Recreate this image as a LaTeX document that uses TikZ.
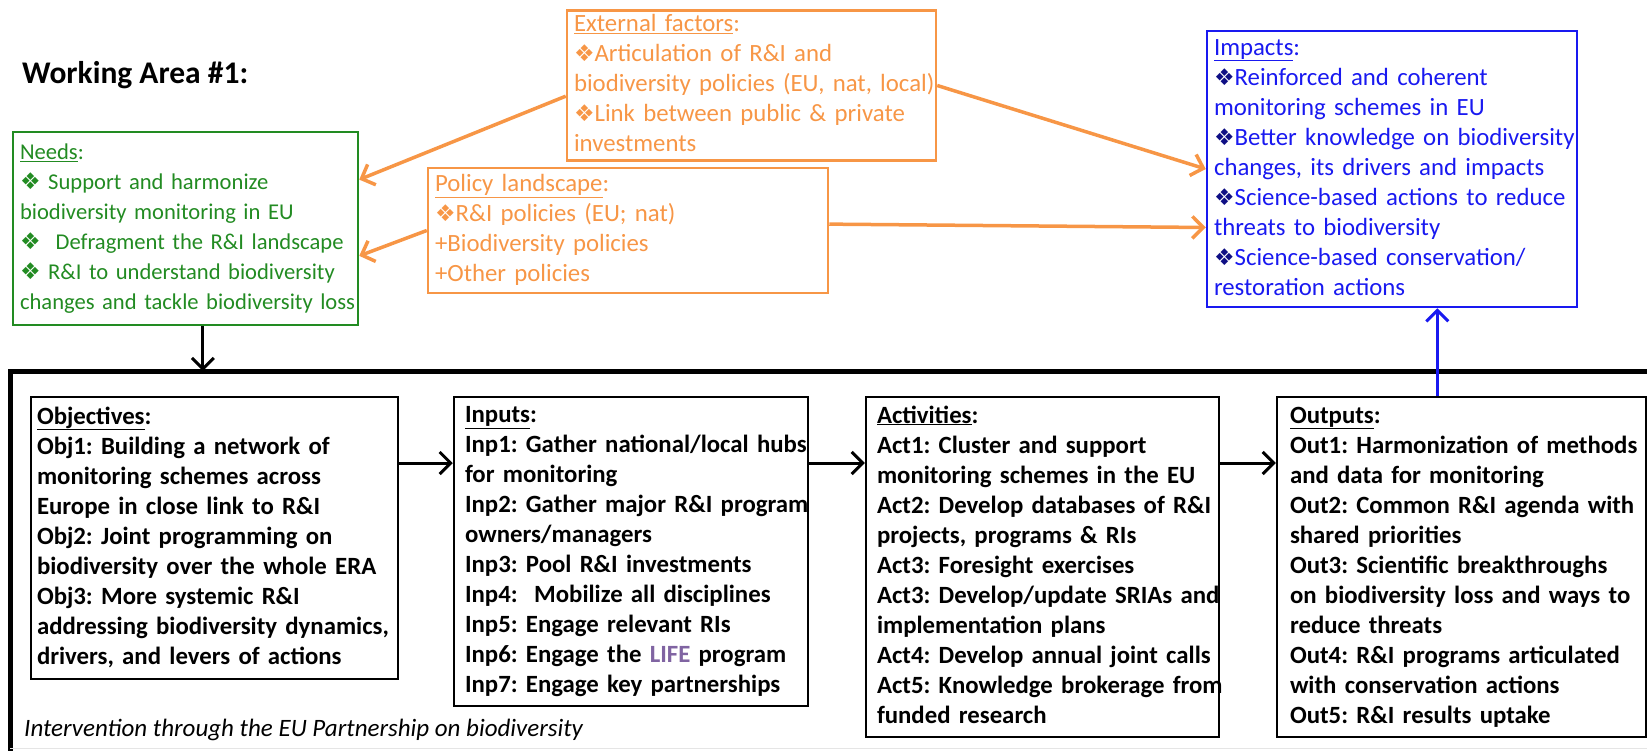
\documentclass[tikz,border=0pt]{standalone}
\usepackage{fontspec}
\setmainfont{Carlito}
\newfontfamily\symfont{DejaVu Sans}
\usetikzlibrary{arrows.meta,calc}

\definecolor{needgreen}{RGB}{34,139,34}
\definecolor{factorange}{RGB}{247,150,70}
\definecolor{impblue}{RGB}{25,25,240}
\definecolor{lifepurple}{RGB}{128,100,162}

\frenchspacing
\newcommand{\bul}{{\symfont\fontsize{23}{30}\selectfont ❖}}
\newcommand{\rows}[1]{\begin{tabular}{@{}l@{}}#1\end{tabular}}

\tikzset{
	panel/.style={draw, line width=2.5pt, inner ysep=0pt, align=left, font=\fontsize{24.8}{30}\selectfont},
	plan/.style={panel, font=\bfseries\fontsize{24.8}{30}\selectfont},
	flow/.style={line width=3pt, -{Straight Barb[length=11pt,width=22pt]}},
	feed/.style={flow, factorange, line width=3.5pt}
}

\begin{document}
\begin{tikzpicture}[x=1pt,y=-1pt]
	\useasboundingbox (0,0) rectangle (1647,750);
	\node[anchor=west, inner sep=0pt, font=\bfseries\fontsize{31.5}{36}\selectfont] (title) at (22,75) {Working Area \#1:};
	\node[panel, needgreen, text=needgreen, inner xsep=7pt, minimum width=345pt, minimum height=193pt, text width=331pt, font=\fontsize{22.6}{30}\selectfont] (needs) at (185.5,228.5) {\rows{%
		\underline{Needs}:\\
		\bul\ Support and harmonize\\
		biodiversity monitoring in EU\\
		\bul\ \ Defragment the R\&I landscape\\
		\bul\ R\&I to understand biodiversity\\
		changes and tackle biodiversity loss}};
	\node[panel, factorange, inner xsep=7pt, minimum width=369pt, minimum height=147pt, text width=355pt] (ext) at (751.5,85.5) {\rows{%
		\underline{External factors}:\\
		\bul Articulation of R\&I and\\
		biodiversity policies (EU, nat, local)\\
		\bul Link between public \& private\\
		investments}};
	\node[panel, factorange, inner xsep=7pt, minimum width=400pt, minimum height=125pt, text width=386pt] (pol) at (628,230.5) {\rows{%
		\underline{Policy landscape}:\\
		\bul R\&I policies (EU; nat)\\
		+Biodiversity policies\\
		+Other policies}};
	\node[panel, impblue, inner xsep=7pt, minimum width=370pt, minimum height=276pt, text width=356pt] (imp) at (1392,169) {\rows{%
		\underline{Impacts}:\\
		{\color{impblue!55!black}\bul}Reinforced and coherent\\
		monitoring schemes in EU\\
		{\color{impblue!55!black}\bul}Better knowledge on biodiversity\\
		changes, its drivers and impacts\\
		{\color{impblue!55!black}\bul}Science-based actions to reduce\\
		threats to biodiversity\\
		{\color{impblue!55!black}\bul}Science-based conservation/\\
		restoration actions}};

	\coordinate (frame) at (10,371);
	\coordinate (flow) at (0,463);
	\draw[line width=5pt] (10,760) -- (frame) -- (1660,371);
	\draw[gray!20, line width=1pt] (10,748) -- (1660,748);

	\node[plan, inner xsep=6pt, minimum width=367pt, minimum height=282pt, text width=355pt] (obj) at (214.5,538) {\rows{%
		\underline{Objectives}:\\
		Obj1: Building a network of\\
		monitoring schemes across\\
		Europe in close link to R\&I\\
		Obj2: Joint programming on\\
		biodiversity over the whole ERA\\
		Obj3: More systemic R\&I\\
		addressing biodiversity dynamics,\\
		drivers, and levers of actions}};
	\node[plan, inner xsep=11pt, minimum width=354pt, minimum height=309pt, text width=332pt] (inp) at (631,551.5) {\rows{%
		\underline{Inputs}:\\
		Inp1: Gather national/local hubs\\
		for monitoring\\
		Inp2: Gather major R\&I program\\
		owners/managers\\
		Inp3: Pool R\&I investments\\
		Inp4:\ \ Mobilize all disciplines\\
		Inp5: Engage relevant RIs\\
		Inp6: Engage the {\color{lifepurple}LIFE} program\\
		Inp7: Engage key partnerships}};
	\node[plan, inner xsep=11pt, minimum width=353pt, minimum height=340pt, text width=331pt] (act) at (1042.5,567) {\rows{%
		\underline{Activities}:\\
		Act1: Cluster and support\\
		monitoring schemes in the EU\\
		Act2: Develop databases of R\&I\\
		projects, programs \& RIs\\
		Act3: Foresight exercises\\
		Act3: Develop/update SRIAs and\\
		implementation plans\\
		Act4: Develop annual joint calls\\
		Act5: Knowledge brokerage from\\
		funded research}};
	\node[plan, inner xsep=13pt, minimum width=369pt, minimum height=340pt, text width=343pt] (out) at (1461.5,567) {\rows{%
		\underline{Outputs}:\\
		Out1: Harmonization of methods\\
		and data for monitoring\\
		Out2: Common R\&I agenda with\\
		shared priorities\\
		Out3: Scientific breakthroughs\\
		on biodiversity loss and ways to\\
		reduce threats\\
		Out4: R\&I programs articulated\\
		with conservation actions\\
		Out5: R\&I results uptake}};
	\node[anchor=west, inner sep=0pt, font=\itshape\fontsize{25}{30}\selectfont] (via) at (24,730) {Intervention through the EU Partnership on biodiversity};

	\draw[feed] ($(ext.north west)!0.57!(ext.south west)$) -- ($(needs.north east)!0.25!(needs.south east)$);
	\draw[feed] (pol.west) -- ($(needs.north east)!0.64!(needs.south east)$);
	\draw[feed] (ext.east) -- ($(imp.north west)!0.5!(imp.south west)$);
	\draw[feed] ($(pol.north east)!0.45!(pol.south east)$) -- ($(imp.north west)!0.71!(imp.south west)$);
	\draw[flow] ($(needs.south west)!0.55!(needs.south east)$) coordinate (drop) -- (drop |- frame);
	\draw[flow] (obj.east |- flow) -- (inp.west |- flow);
	\draw[flow] (inp.east |- flow) -- (act.west |- flow);
	\draw[flow] (act.east |- flow) -- (out.west |- flow);
	\draw[flow, impblue] ($(out.north west)!0.435!(out.north east)$) coordinate (rise) -- (rise |- imp.south);
\end{tikzpicture}
\end{document}
